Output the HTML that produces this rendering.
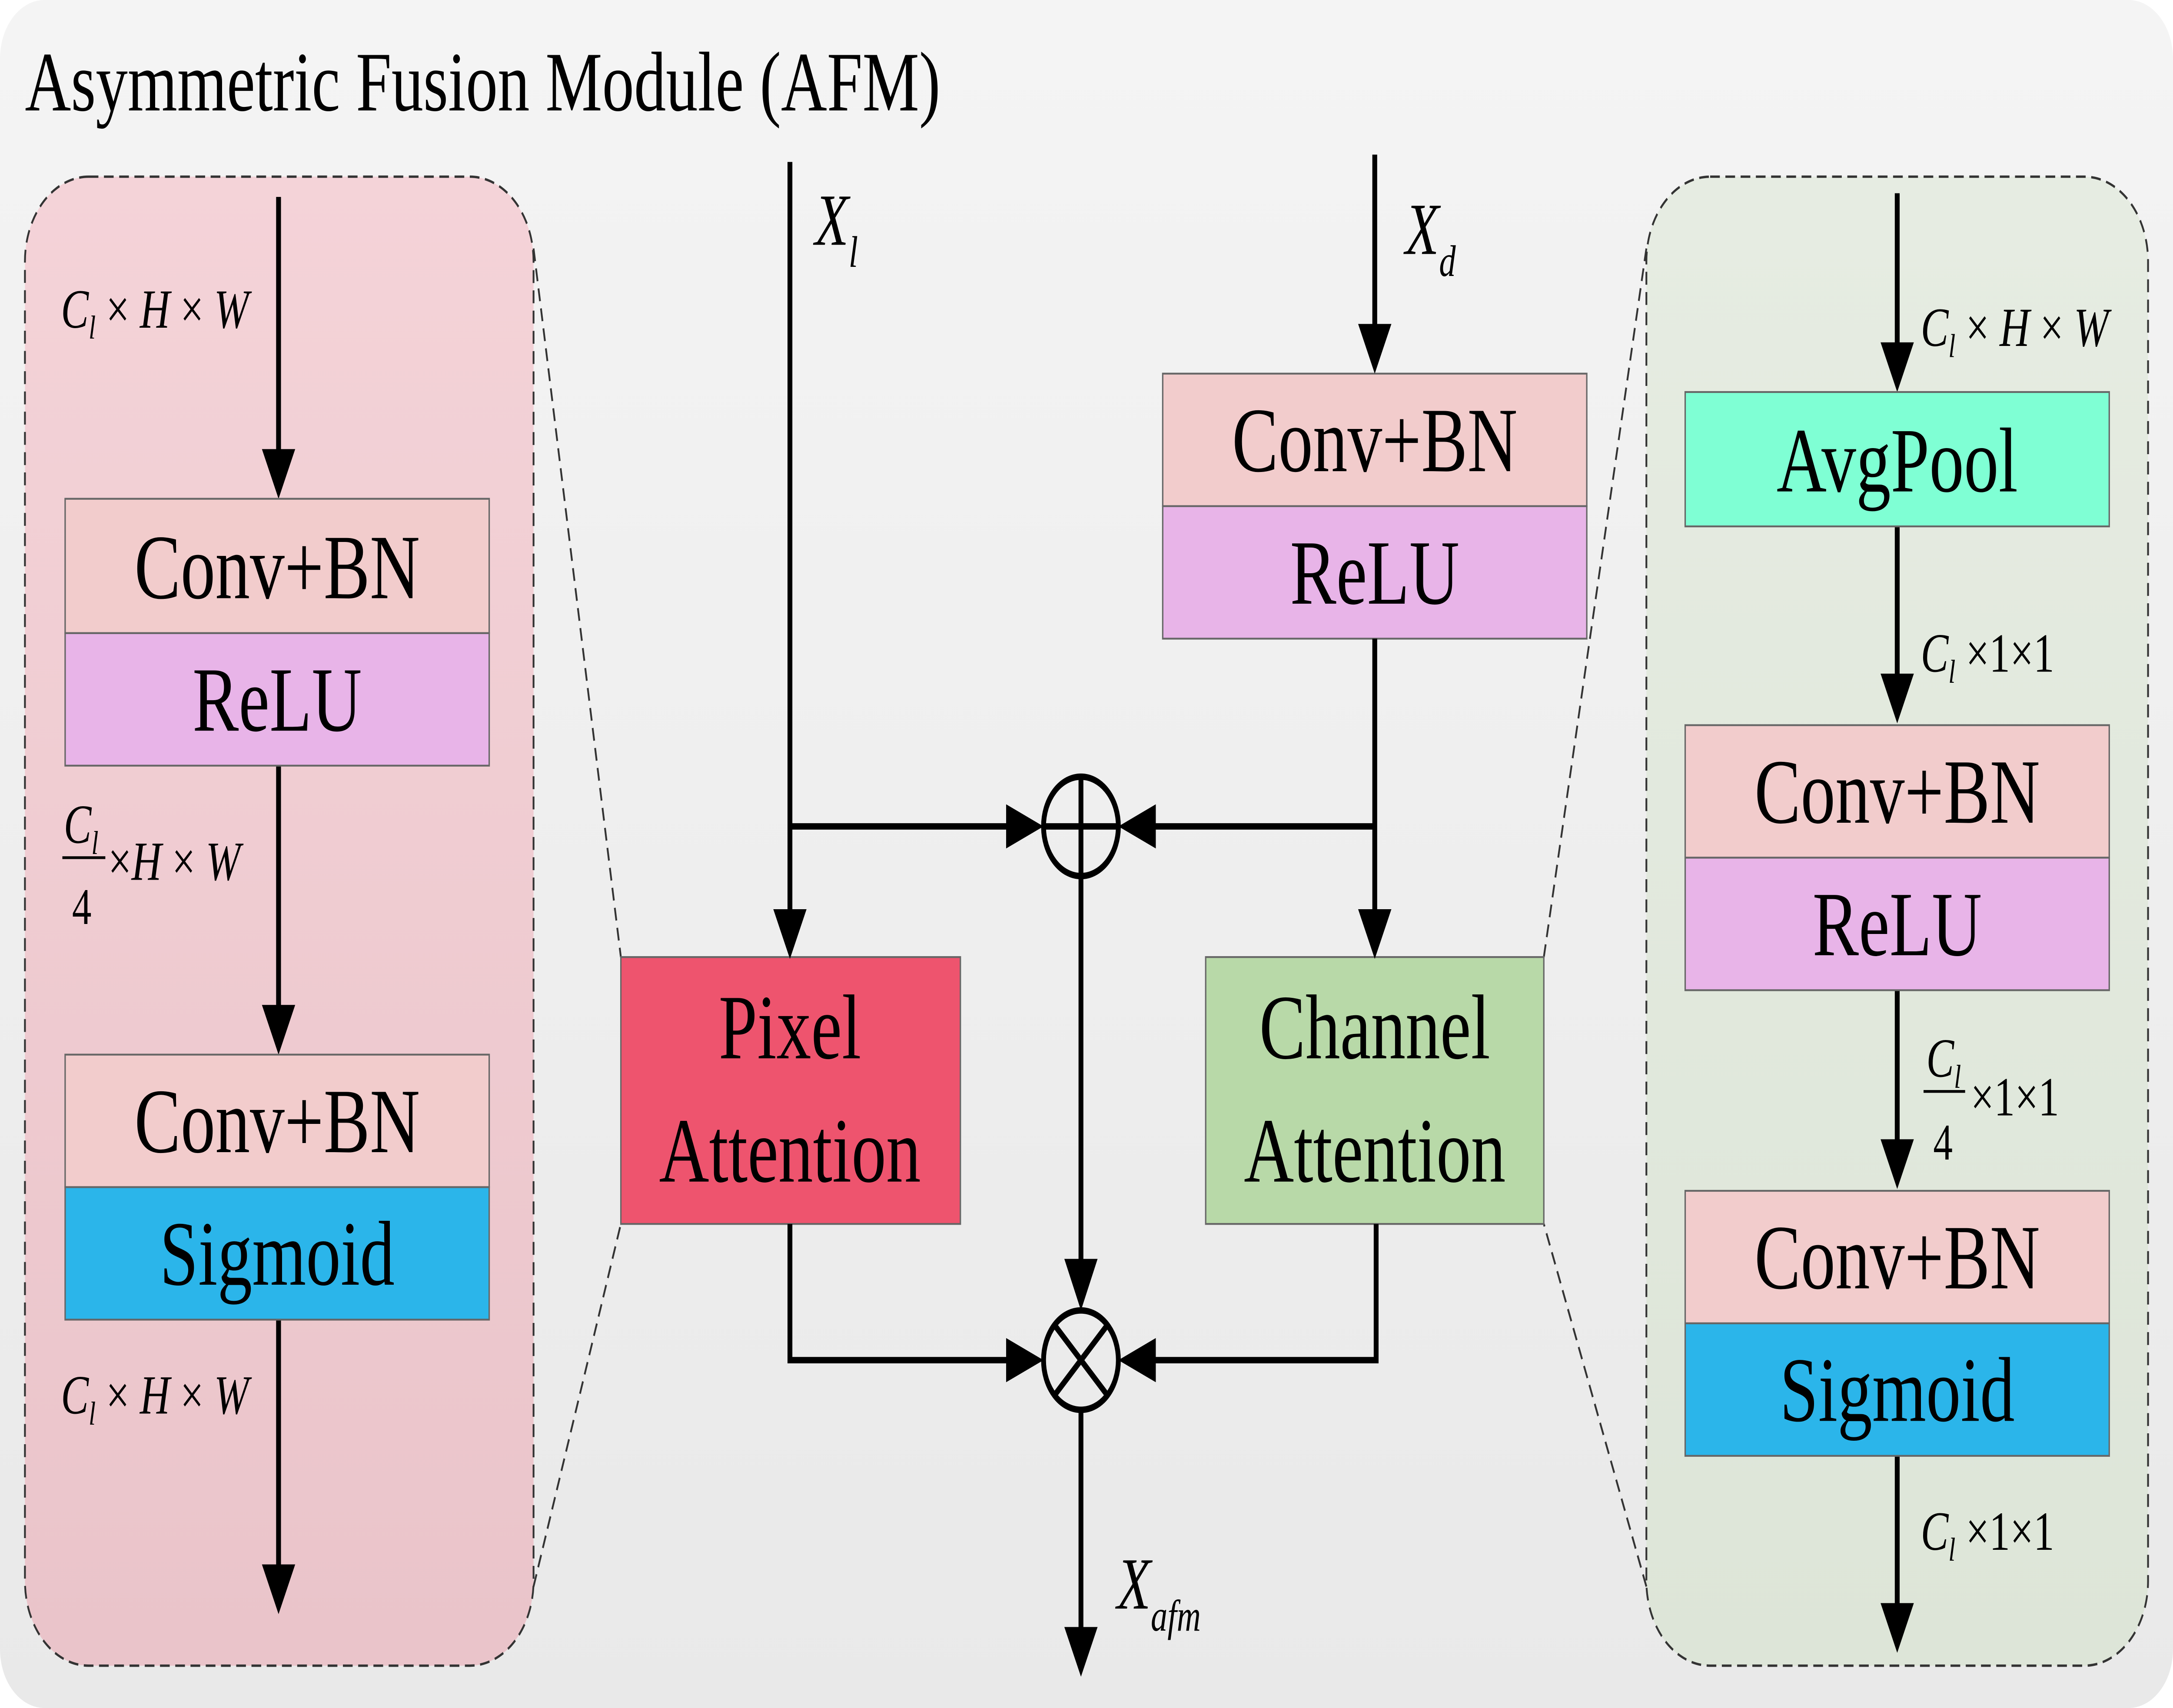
<!DOCTYPE html>
<html><head><meta charset="utf-8"><style>
html,body{margin:0;padding:0;background:#fff;overflow:hidden;width:100%;height:100%;}
svg{display:block;width:100vw;height:100vh;}
text{font-family:"Liberation Serif",serif;fill:#000;}
.box{font-size:50px;text-anchor:middle;}
.lab{font-size:30px;font-style:italic;}
</style></head><body>
<svg viewBox="0 0 1568 928" preserveAspectRatio="none" xmlns="http://www.w3.org/2000/svg">
<defs>
<linearGradient id="bg" x1="0" y1="0" x2="0" y2="1"><stop offset="0" stop-color="#f4f4f4"/><stop offset="1" stop-color="#e9e9e9"/></linearGradient>
<linearGradient id="pk" x1="0" y1="0" x2="0" y2="1"><stop offset="0" stop-color="#f4d3d8"/><stop offset="1" stop-color="#eac4ca"/></linearGradient>
<linearGradient id="gr" x1="0" y1="0" x2="0" y2="1"><stop offset="0" stop-color="#e6ece2"/><stop offset="1" stop-color="#dde5d8"/></linearGradient>
</defs>
<rect x="0" y="0" width="1568" height="928" rx="32" fill="url(#bg)"/>
<text x="18" y="60" style="font-size:46px">Asymmetric Fusion Module (AFM)</text>

<rect x="18" y="96" width="367" height="809" rx="46" fill="url(#pk)" stroke="#333" stroke-width="1.3" stroke-dasharray="7,4"/>
<rect x="1188" y="96" width="362" height="809" rx="46" fill="url(#gr)" stroke="#333" stroke-width="1.3" stroke-dasharray="7,4"/>
<g stroke="#333" stroke-width="1.3" stroke-dasharray="7,4">
<line x1="385" y1="135" x2="448" y2="520"/><line x1="385" y1="862" x2="448" y2="665"/>
<line x1="1188" y1="135" x2="1114" y2="520"/><line x1="1188" y1="862" x2="1114" y2="665"/>
</g>

<g fill="#000">
<path d="M201,107 V246" stroke="#000" stroke-width="3.5"/><path d="M189,244 L213,244 L201,271 z"/>
<path d="M201,416 V548" stroke="#000" stroke-width="3.5"/><path d="M189,546 L213,546 L201,573 z"/>
<path d="M201,717 V852" stroke="#000" stroke-width="3.5"/><path d="M189,850 L213,850 L201,877 z"/>
</g>
<rect x="47" y="271" width="306" height="73" fill="#f2cccc" stroke="#666" stroke-width="1"/>
<rect x="47" y="344" width="306" height="72" fill="#e8b4e8" stroke="#666" stroke-width="1"/>
<rect x="47" y="573" width="306" height="72" fill="#f2cccc" stroke="#666" stroke-width="1"/>
<rect x="47" y="645" width="306" height="72" fill="#2bb5ea" stroke="#666" stroke-width="1"/>
<text class="box" x="200" y="325">Conv+BN</text>
<text class="box" x="200" y="397">ReLU</text>
<text class="box" x="200" y="626">Conv+BN</text>
<text class="box" x="200" y="698">Sigmoid</text>
<text class="lab" x="44" y="178">C<tspan font-size="18" dy="6">l</tspan><tspan dy="-6" font-style="normal"> × </tspan>H<tspan font-style="normal"> × </tspan>W</text>
<text class="lab" x="44" y="768">C<tspan font-size="18" dy="6">l</tspan><tspan dy="-6" font-style="normal"> × </tspan>H<tspan font-style="normal"> × </tspan>W</text>
<text class="lab" x="46" y="458">C<tspan font-size="18" dy="6">l</tspan></text>
<line x1="45" y1="466" x2="76" y2="466" stroke="#000" stroke-width="1.5"/>
<text x="52" y="502" style="font-size:28px">4</text>
<text class="lab" x="78" y="478"><tspan font-style="normal">×</tspan>H<tspan font-style="normal"> × </tspan>W</text>

<g fill="#000">
<path d="M1369,105 V188" stroke="#000" stroke-width="3.5"/><path d="M1357,186 L1381,186 L1369,213 z"/>
<path d="M1369,286 V368" stroke="#000" stroke-width="3.5"/><path d="M1357,366 L1381,366 L1369,393 z"/>
<path d="M1369,538 V621" stroke="#000" stroke-width="3.5"/><path d="M1357,619 L1381,619 L1369,646 z"/>
<path d="M1369,791 V873" stroke="#000" stroke-width="3.5"/><path d="M1357,871 L1381,871 L1369,898 z"/>
</g>
<rect x="1216" y="213" width="306" height="73" fill="#7fffd4" stroke="#666" stroke-width="1"/>
<rect x="1216" y="394" width="306" height="72" fill="#f2cccc" stroke="#666" stroke-width="1"/>
<rect x="1216" y="466" width="306" height="72" fill="#e8b4e8" stroke="#666" stroke-width="1"/>
<rect x="1216" y="647" width="306" height="72" fill="#f2cccc" stroke="#666" stroke-width="1"/>
<rect x="1216" y="719" width="306" height="72" fill="#2bb5ea" stroke="#666" stroke-width="1"/>
<text class="box" x="1369" y="267">AvgPool</text>
<text class="box" x="1369" y="447">Conv+BN</text>
<text class="box" x="1369" y="519">ReLU</text>
<text class="box" x="1369" y="700">Conv+BN</text>
<text class="box" x="1369" y="772">Sigmoid</text>
<text class="lab" x="1386" y="188">C<tspan font-size="18" dy="6">l</tspan><tspan dy="-6" font-style="normal"> × </tspan>H<tspan font-style="normal"> × </tspan>W</text>
<text class="lab" x="1386" y="365">C<tspan font-size="18" dy="6">l</tspan><tspan dy="-6" font-style="normal"> ×1×1</tspan></text>
<text class="lab" x="1386" y="842">C<tspan font-size="18" dy="6">l</tspan><tspan dy="-6" font-style="normal"> ×1×1</tspan></text>
<text class="lab" x="1390" y="585">C<tspan font-size="18" dy="6">l</tspan></text>
<line x1="1388" y1="593" x2="1418" y2="593" stroke="#000" stroke-width="1.5"/>
<text x="1395" y="630" style="font-size:28px">4</text>
<text x="1422" y="606" style="font-size:30px">×1×1</text>

<rect x="839" y="203" width="306" height="72" fill="#f2cccc" stroke="#666" stroke-width="1"/>
<rect x="839" y="275" width="306" height="72" fill="#e8b4e8" stroke="#666" stroke-width="1"/>
<text class="box" x="992" y="256">Conv+BN</text>
<text class="box" x="992" y="328">ReLU</text>
<rect x="448" y="520" width="245" height="145" fill="#ee546e" stroke="#666" stroke-width="1"/>
<rect x="870" y="520" width="244" height="145" fill="#b8d9a8" stroke="#666" stroke-width="1"/>
<text class="box" x="570" y="575">Pixel</text>
<text class="box" x="570" y="642">Attention</text>
<text class="box" x="992" y="575">Channel</text>
<text class="box" x="992" y="642">Attention</text>

<g stroke="#000" stroke-width="3.5" fill="none">
<path d="M570,88 V496"/>
<path d="M570,449 H728"/>
<path d="M992,84 V178"/>
<path d="M992,347 V496"/>
<path d="M992,449 H832"/>
<path d="M780,476 V686"/>
<path d="M570,665 V739 H728"/>
<path d="M993,665 V739 H832"/>
<path d="M780,766 V886"/>
<circle cx="780" cy="449" r="27"/>
<circle cx="780" cy="739" r="27"/>
<path d="M753,449 H807 M780,422 V476"/>
<path d="M761,720 L799,758 M799,720 L761,758"/>
</g>
<g fill="#000">
<path d="M558,494 L582,494 L570,521 z"/>
<path d="M980,176 L1004,176 L992,203 z"/>
<path d="M980,494 L1004,494 L992,521 z"/>
<path d="M726,437 L726,461 L753,449 z"/>
<path d="M834,437 L834,461 L807,449 z"/>
<path d="M768,684 L792,684 L780,712 z"/>
<path d="M726,727 L726,751 L753,739 z"/>
<path d="M834,727 L834,751 L807,739 z"/>
<path d="M768,884 L792,884 L780,911 z"/>
</g>
<text x="588" y="133" style="font-size:40px;font-style:italic">X<tspan font-size="24" dy="12">l</tspan></text>
<text x="1014" y="138" style="font-size:40px;font-style:italic">X<tspan font-size="24" dy="12">d</tspan></text>
<text x="806" y="874" style="font-size:40px;font-style:italic">X<tspan font-size="24" dy="12">afm</tspan></text>
</svg>
</body></html>
